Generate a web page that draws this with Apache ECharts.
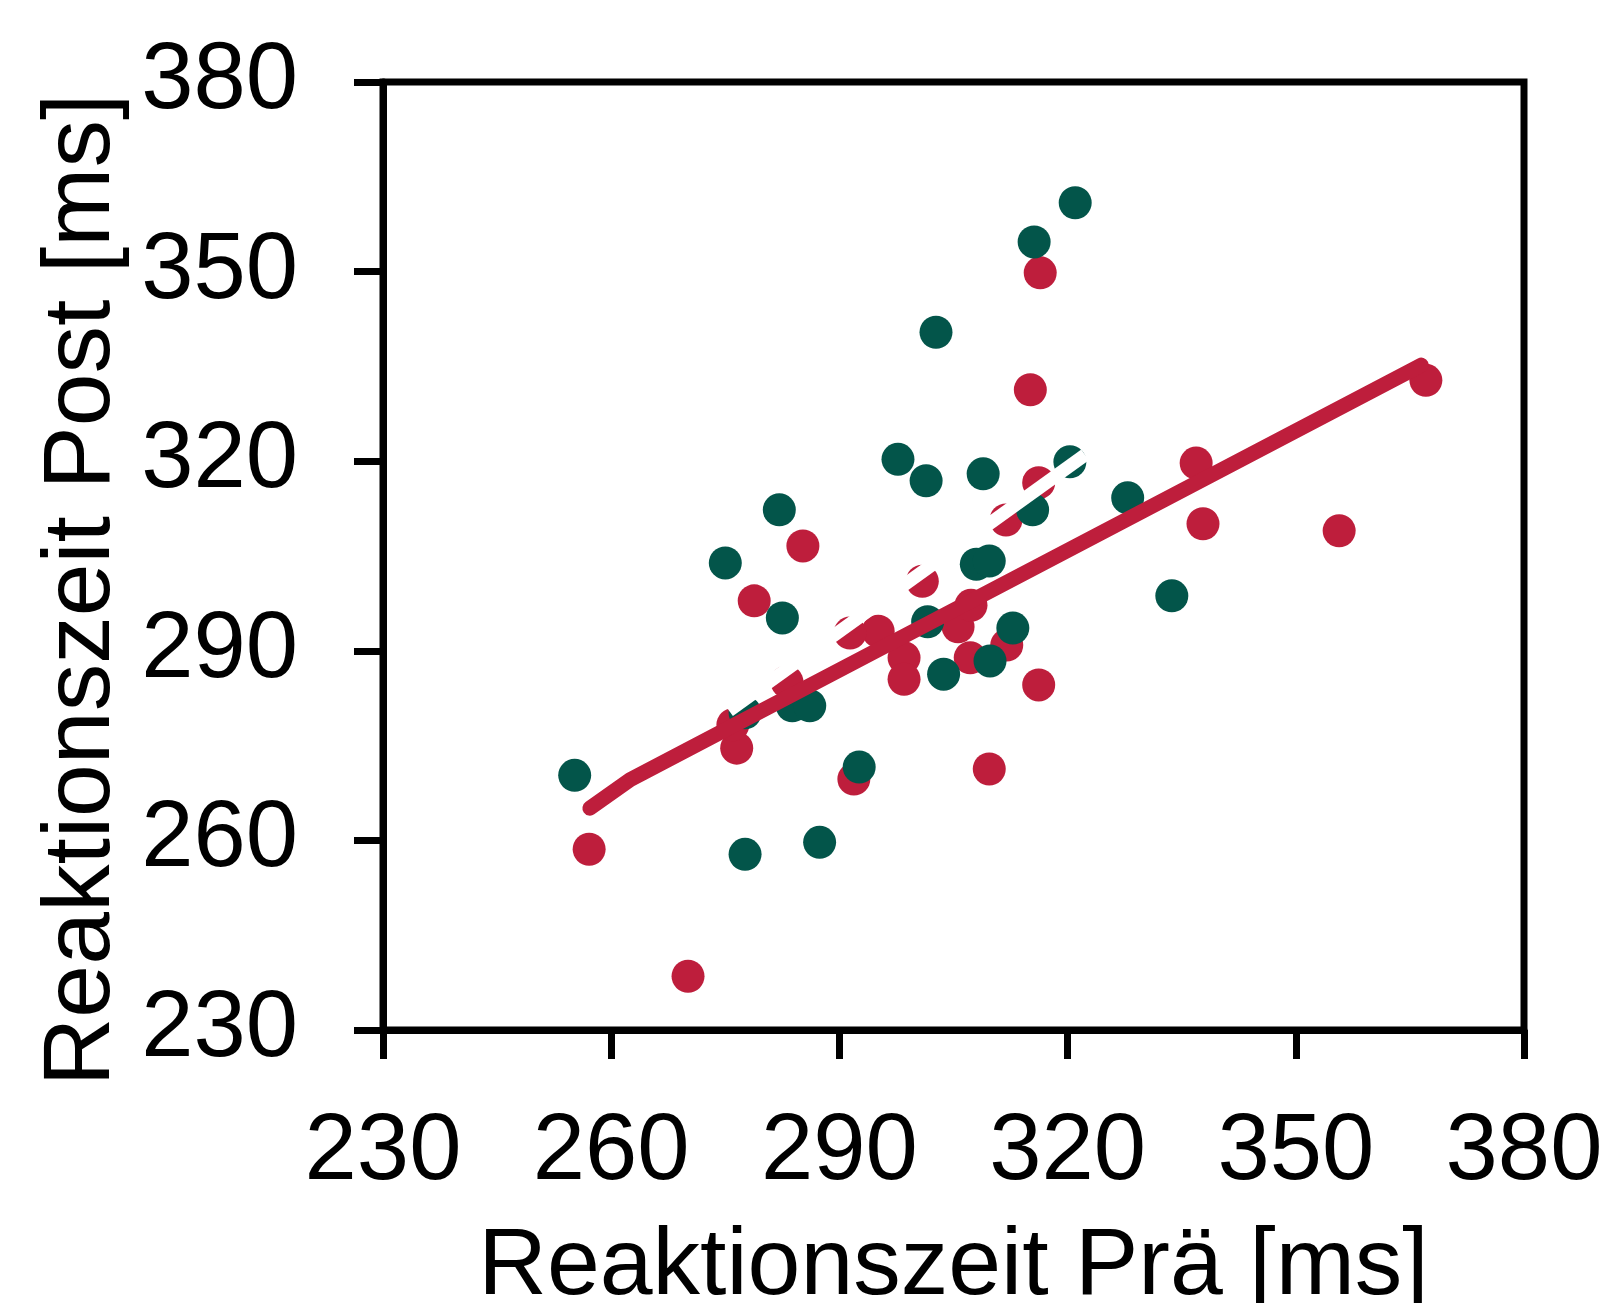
<!DOCTYPE html>
<html>
<head>
<meta charset="utf-8">
<script src="https://cdn.jsdelivr.net/npm/echarts@6/dist/echarts.min.js"></script>
<style>
html,body{margin:0;padding:0;background:#fff;}
#chart{width:1610px;height:1303px;}
</style>
</head>
<body>
<div id="chart"></div>
<script>
// Axis ticks (both axes)
const axisTicks = [230, 260, 290, 320, 350, 380];

// Red group: [Prä, Post]
const redPoints = [
  [257.1, 258.6], [270.1, 238.5], [276.5, 274.6], [278.8, 297.9], [285.2, 306.6],
  [291.9, 269.7], [295.1, 293.1], [298.5, 288.9], [298.5, 285.5], [300.9, 301.0],
  [305.6, 293.8], [307.3, 297.2], [307.2, 288.9], [309.7, 271.3], [312.0, 290.9],
  [311.9, 310.7], [316.2, 284.6], [315.1, 331.3], [316.4, 349.8], [316.2, 316.6],
  [336.9, 319.7], [337.8, 310.1], [355.7, 309.0], [367.1, 332.8], [291.4, 292.8],
  [283.1, 285.1], [276.0, 278.3]
];

// Green group: [Prä, Post]
const greenPoints = [
  [255.2, 270.3], [275.0, 303.9], [282.1, 312.3], [282.5, 295.2], [277.6, 280.2],
  [283.8, 281.3], [286.1, 281.3], [277.6, 257.8], [287.4, 259.7], [292.6, 271.6],
  [297.7, 320.3], [301.4, 316.9], [302.7, 340.4], [301.6, 294.6], [303.7, 286.3],
  [308.9, 318.0], [308.0, 303.7], [309.7, 304.2], [309.8, 288.4], [312.8, 293.6],
  [315.6, 354.7], [321.0, 360.9], [320.3, 319.9], [315.4, 312.3], [327.9, 314.2],
  [333.7, 298.7]
];

// Regression line (red)
const redFit = [[257.2, 265.1], [262.5, 269.6], [366.5, 335.2]];
// Second fit line (rendered white)
const whiteFit = [[275.5, 280.5], [322.3, 321.0]];

const RED = '#BE1E3C';
const GREEN = '#03554A';
const FONT = '"Liberation Sans", Arial, sans-serif';

const chart = echarts.init(document.getElementById('chart'), null, {renderer: 'canvas'});

const axisCommon = {
  type: 'value',
  min: axisTicks[0],
  max: axisTicks[axisTicks.length - 1],
  interval: axisTicks[1] - axisTicks[0],
  splitLine: {show: false},
  axisLine: {show: true, onZero: false, lineStyle: {color: '#000', width: 7}},
  axisTick: {show: true, inside: false, length: 29, lineStyle: {color: '#000', width: 7}},
  nameLocation: 'middle',
  nameTextStyle: {fontFamily: FONT, fontSize: 95, color: '#000', verticalAlign: 'middle', align: 'center'}
};

chart.setOption({
  animation: false,
  backgroundColor: '#fff',
  grid: {
    left: 383, right: 86, top: 82, bottom: 273,
    outerBoundsMode: 'none',
    containLabel: false,
    show: true, borderColor: '#000', borderWidth: 7, backgroundColor: 'transparent'
  },
  xAxis: Object.assign({}, axisCommon, {
    name: 'Reaktionszeit Prä [ms]',
    nameGap: 238,
    axisLabel: {fontFamily: FONT, fontSize: 94, color: '#000', margin: 123, verticalAlign: 'middle',
      formatter: v => String(v)}
  }),
  yAxis: Object.assign({}, axisCommon, {
    name: 'Reaktionszeit Post [ms]',
    nameGap: 300,
    nameTextStyle: Object.assign({}, axisCommon.nameTextStyle, {padding: [0, 68, 0, 0]}),
    axisLabel: {fontFamily: FONT, fontSize: 94, color: '#000', margin: 85,
      formatter: v => String(v)}
  }),
  series: [
    {
      type: 'scatter', name: 'red', data: redPoints, symbol: 'circle', symbolSize: 33,
      itemStyle: {color: RED, opacity: 1}, z: 2
    },
    {
      type: 'scatter', name: 'green', data: greenPoints, symbol: 'circle', symbolSize: 33,
      itemStyle: {color: GREEN, opacity: 1}, z: 3
    },
    {
      type: 'line', data: whiteFit, symbol: 'none', z: 4,
      lineStyle: {color: '#fff', width: 13, cap: 'butt'}
    },
    {
      type: 'line', data: redFit, symbol: 'none', z: 5,
      lineStyle: {color: RED, width: 15, cap: 'round', join: 'round'}
    }
  ]
});
</script>
</body>
</html>
